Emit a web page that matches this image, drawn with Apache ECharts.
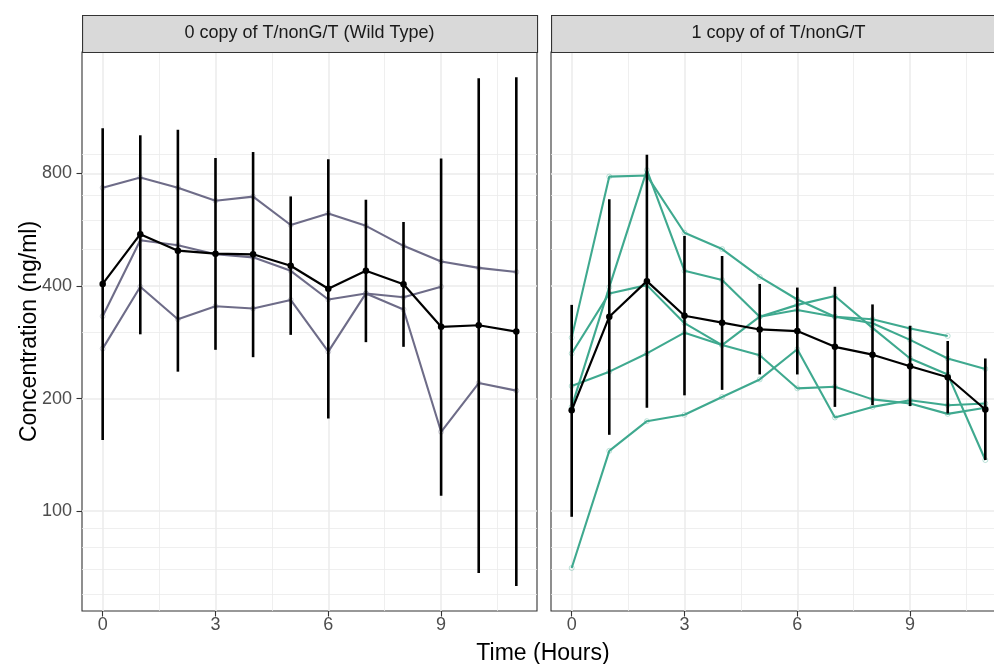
<!DOCTYPE html>
<html>
<head>
<meta charset="utf-8">
<script src="https://cdn.jsdelivr.net/npm/echarts@6/dist/echarts.min.js"></script>
<style>
  html, body { margin: 0; padding: 0; background: #ffffff; }
  #chart { width: 994px; height: 664px; }
</style>
</head>
<body>
<div id="chart"></div>
<script>
// Sampling times (hours)
const hours = [0, 1, 2, 3, 4, 5, 6, 7, 8, 9, 10, 11];

// 0 copy of T/nonG/T (Wild Type): individual subjects, ng/ml
const wt1 = [732, 780, 732, 676, 693, 582, 625, 579, 512, 465, 447, 436];
const wt2 = [332, 530, 514, 486, 477, 439, 368, 382, 373, 398, null, null];
const wt3 = [272, 398, 326, 353, 348, 367, 267, 382, 346, 163, 220, 210];
// geometric mean with error range
const wtMean = [405, 550, 497, 488, 486, 453, 393, 439, 404, 311, 314, 302];
const wtLow  = [155, 297, 236, 270, 258, 296, 177, 283, 275, 110, 68.4, 63.1];
const wtHigh = [1055, 1011, 1046, 879, 912, 694, 873, 680, 593, 877, 1436, 1445];

// 1 copy of of T/nonG/T: individual subjects, ng/ml
const het1 = [291, 784, 789, 555, 502, 423, 368, 331, 326, 308, 294, null];
const het2 = [190, 397, 816, 439, 415, 331, 356, 376, 309, 256, 232, 137];
const het3 = [264, 382, 402, 318, 278, 331, 345, 331, 318, 287, 256, 240];
const het4 = [216, 236, 264, 300, 278, 261, 213, 215, 199, 194, 182, 189];
const het5 = [70.5, 145, 174, 181, 202, 225, 271, 178, 190, 198, 192, 194];
const hetMean = [186, 331, 412, 333, 319, 306, 303, 275, 262, 244, 228, 187];
const hetLow  = [96.6, 160, 189, 204, 211, 232, 232, 190, 192, 191, 182.5, 137];
const hetHigh = [356, 682, 897, 544, 481, 405, 396, 398, 357, 313, 285, 256];

// Axis breaks
const yMajor = [100, 200, 400, 800];
const yMinor = [60, 70, 80, 90, 300, 500, 600, 700, 900];
const xMajor = [0, 3, 6, 9];
const xMinor = [1.5, 4.5, 7.5, 10.5];

const panelTitles = ['0 copy of T/nonG/T (Wild Type)', '1 copy of of T/nonG/T'];

const FONT = '"Liberation Sans", Arial, Helvetica, sans-serif';
const WT_COLOR = '#6e6c88';
const WT_POINT = 'rgba(110,108,136,0.35)';
const HET_COLOR = '#3fa98f';
const HET_POINT = 'rgba(63,169,143,0.35)';

const panelLeft = [82, 551];
const panelTop = 52;
const panelWidth = 455;
const panelHeight = 559;
const yMin = 54.1, yMax = 1688;
const xMin = -0.55, xMax = 11.55;

const chart = echarts.init(document.getElementById('chart'), null, { renderer: 'canvas' });

const grids = panelLeft.map(l => ({
  left: l, top: panelTop, width: panelWidth, height: panelHeight,
  show: true, borderColor: '#333333', borderWidth: 1.1, backgroundColor: 'transparent',
  outerBoundsMode: 'none'
}));

const xAxes = [];
const yAxes = [];
// major axes: index 0,1 ; minor-grid axes: index 2,3
[0, 1].forEach(g => {
  xAxes.push({
    type: 'value', gridIndex: g, min: xMin, max: xMax, position: 'bottom',
    axisLine: { show: false },
    axisTick: { show: true, inside: false, length: 5.5, customValues: xMajor, lineStyle: { color: '#333333', width: 1.1 } },
    axisLabel: { customValues: xMajor, color: '#4d4d4d', fontSize: 18, fontFamily: FONT, margin: 5 },
    splitLine: { show: true, lineStyle: { color: '#ebebeb', width: 1.5 } }
  });
  yAxes.push({
    type: 'log', logBase: 2, gridIndex: g, min: yMin, max: yMax, position: 'left',
    axisLine: { show: false },
    axisTick: { show: false, customValues: yMajor },
    axisLabel: { show: g === 0, customValues: yMajor, color: '#4d4d4d', fontSize: 18, fontFamily: FONT, margin: 10,
      formatter: v => String(Math.round(v)) },
    splitLine: { show: true, lineStyle: { color: '#ebebeb', width: 1.5 } },
    minorSplitLine: { show: false }
  });
});
[0, 1].forEach(g => {
  xAxes.push({
    type: 'value', gridIndex: g, min: xMin, max: xMax, position: 'top',
    axisLine: { show: false },
    axisTick: { show: false, customValues: xMinor },
    axisLabel: { show: false, customValues: xMinor },
    splitLine: { show: true, lineStyle: { color: '#ebebeb', width: 0.8 } }
  });
  yAxes.push({
    type: 'log', logBase: 2, gridIndex: g, min: yMin, max: yMax, position: 'right',
    axisLine: { show: false },
    axisTick: { show: false, customValues: yMinor },
    axisLabel: { show: false, customValues: yMinor },
    splitLine: { show: true, lineStyle: { color: '#ebebeb', width: 0.8 } }
  });
});
// tick marks for the concentration axis, on a log2 value scale
yAxes.push({
  type: 'value', gridIndex: 0, min: Math.log2(yMin), max: Math.log2(yMax), position: 'left',
  axisLine: { show: false },
  axisTick: { show: true, inside: false, length: 5.5, customValues: yMajor.map(v => Math.log2(v)),
    lineStyle: { color: '#333333', width: 1.1 } },
  axisLabel: { show: false },
  splitLine: { show: false }
});

function pairs(values) {
  const out = [];
  hours.forEach((h, i) => { if (values[i] != null) out.push([h, values[i]]); });
  return out;
}

function subjectSeries(values, g, color, pointColor) {
  return {
    type: 'line', xAxisIndex: g, yAxisIndex: g,
    data: pairs(values),
    symbol: 'circle', symbolSize: 5, showSymbol: true,
    itemStyle: { color: 'rgba(255,255,255,0)', borderColor: pointColor, borderWidth: 1 },
    lineStyle: { color: color, width: 2.1 },
    emphasis: { disabled: true }, silent: true, z: 2
  };
}

function errorSeries(low, high, g) {
  return {
    type: 'custom', xAxisIndex: g, yAxisIndex: g,
    data: hours.map((h, i) => [h, low[i], high[i]]),
    encode: { x: 0, y: [1, 2] },
    renderItem: (params, api) => {
      const a = api.coord([api.value(0), api.value(1)]);
      const b = api.coord([api.value(0), api.value(2)]);
      return {
        type: 'line',
        shape: { x1: a[0], y1: a[1], x2: b[0], y2: b[1] },
        style: { stroke: '#000000', lineWidth: 2.6 }
      };
    },
    silent: true, z: 3
  };
}

function meanSeries(values, g) {
  return {
    type: 'line', xAxisIndex: g, yAxisIndex: g,
    data: pairs(values),
    symbol: 'circle', symbolSize: 6.5,
    itemStyle: { color: '#000000' },
    lineStyle: { color: '#000000', width: 2.2 },
    emphasis: { disabled: true }, silent: true, z: 4
  };
}

const series = [
  subjectSeries(wt1, 0, WT_COLOR, WT_POINT),
  subjectSeries(wt2, 0, WT_COLOR, WT_POINT),
  subjectSeries(wt3, 0, WT_COLOR, WT_POINT),
  errorSeries(wtLow, wtHigh, 0),
  meanSeries(wtMean, 0),
  subjectSeries(het1, 1, HET_COLOR, HET_POINT),
  subjectSeries(het2, 1, HET_COLOR, HET_POINT),
  subjectSeries(het3, 1, HET_COLOR, HET_POINT),
  subjectSeries(het4, 1, HET_COLOR, HET_POINT),
  subjectSeries(het5, 1, HET_COLOR, HET_POINT),
  errorSeries(hetLow, hetHigh, 1),
  meanSeries(hetMean, 1)
];

// facet strips
const graphics = [];
panelLeft.forEach((l, g) => {
  graphics.push({
    type: 'rect', left: l, top: 15, z: 10,
    shape: { x: 0, y: 0, width: panelWidth, height: panelTop - 15 },
    style: { fill: '#d9d9d9', stroke: '#333333', lineWidth: 1.1 }
  });
  graphics.push({
    type: 'text', z: 11,
    x: l + panelWidth / 2, y: 15 + (panelTop - 15) / 2,
    style: { text: panelTitles[g], fill: '#1a1a1a', font: '18px ' + FONT, align: 'center', verticalAlign: 'middle' }
  });
});
graphics.push({
  type: 'text', z: 11, x: 30, y: panelTop + panelHeight / 2, rotation: Math.PI / 2,
  style: { text: 'Concentration (ng/ml)', fill: '#000000', font: '23px ' + FONT, align: 'center', verticalAlign: 'middle' }
});
graphics.push({
  type: 'text', z: 11, x: 543, y: 654,
  style: { text: 'Time (Hours)', fill: '#000000', font: '23px ' + FONT, align: 'center', verticalAlign: 'middle' }
});

chart.setOption({
  animation: false,
  backgroundColor: '#ffffff',
  textStyle: { fontFamily: FONT },
  grid: grids,
  xAxis: xAxes,
  yAxis: yAxes,
  series: series,
  graphic: graphics
});
</script>
</body>
</html>
